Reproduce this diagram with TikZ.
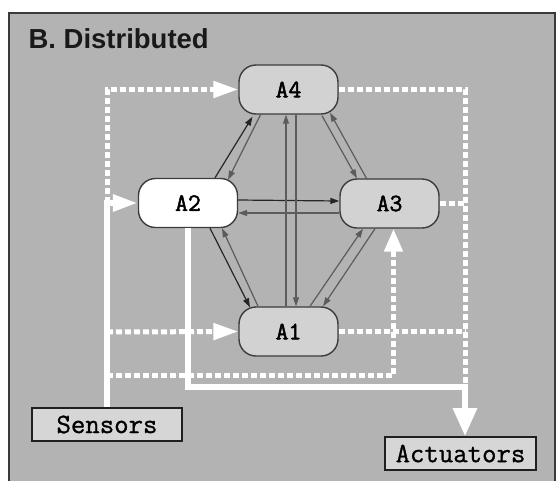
\documentclass[tikz,border=0pt]{standalone}
\usepackage{fontspec}
\setmainfont{Liberation Sans}
\newfontfamily\labelfont[FakeBold=2]{Latin Modern Mono}
\newfontfamily\iofont[FakeBold=1]{Latin Modern Mono}
\usetikzlibrary{arrows.meta}

\definecolor{bgfill}{HTML}{B3B3B3}
\definecolor{framecol}{HTML}{3A3A3A}
\definecolor{agentfill}{HTML}{D2D2D2}
\definecolor{agentline}{HTML}{3C3C3C}
\definecolor{iofill}{HTML}{D6D6D6}
\definecolor{msgdark}{HTML}{262626}
\definecolor{msggray}{HTML}{5C5C5C}

\tikzset{
  agent/.style={draw=agentline, line width=1.4pt, fill=agentfill, rounded corners=17pt,
    minimum width=99pt, minimum height=49pt, inner sep=0pt,
    font=\labelfont\fontsize{25}{25}\selectfont},
  iobox/.style={draw=black!88, line width=1.6pt, fill=iofill, inner sep=0pt,
    minimum height=33pt, font=\iofont\fontsize{28}{28}\selectfont},
  hardlink/.style={draw=white, line width=6pt},
  softlink/.style={draw=white, line width=5pt, dash pattern=on 6pt off 3pt},
  bighead/.style={-{Triangle[length=25pt,width=16pt]}},
  downhead/.style={-{Triangle[length=28pt,width=23pt]}},
  msgA/.style={draw=msgdark, line width=1.2pt, -{Triangle[length=9pt,width=6pt]}},
  msgB/.style={draw=msggray, line width=1.2pt, -{Triangle[length=9pt,width=6pt]}},
}

\begin{document}
\begin{tikzpicture}[x=1pt, y=-1pt]
  \useasboundingbox (0,0) rectangle (557,480);

  % panel background and frame
  \fill[bgfill] (9,13) rectangle (556,482);
  \draw[framecol, line width=2pt] (9,484) -- (9,13) -- (555,13) -- (555,484);

  \node[anchor=west, text=black!90, font=\bfseries\fontsize{27.5}{27.5}\selectfont]
    (title) at (25,39) {B. Distributed};

  % agents
  \node[agent] (A4) at (288.5,89.5) {A4};
  \node[agent, fill=white] (A2) at (188,203) {A2};
  \node[agent] (A3) at (389.5,203.5) {A3};
  \node[agent] (A1) at (288.5,331.5) {A1};

  % sensors and actuators
  \node[iobox, minimum width=150pt] (sen) at (107,424.5) {Sensors};
  \node[iobox, minimum width=151pt] (act) at (460.5,453.5) {Actuators};

  % junction points of the wiring
  \coordinate (trunk) at (107,203);
  \coordinate (tapA1) at (107,332);
  \coordinate (tapA3) at (107,375);
  \coordinate (outA3) at (465,203.5);
  \coordinate (outA1) at (465,331.5);
  \coordinate (outEnd) at (465,386);
  \coordinate (outBus) at (465,387);

  % dotted sensor taps to the other agents
  \draw[softlink, bighead] (trunk) |- (A4.west);
  \draw[softlink, bighead] (tapA1) -- (A1.west);
  \draw[softlink, -{Triangle[length=23pt,width=18pt]}] (tapA3) -| ([xshift=4pt]A3.south);

  % dotted agent outputs
  \draw[softlink] (A4.east) -| (outEnd);
  \draw[softlink] (A3.east) -- (outA3);
  \draw[softlink] (A1.east) -- (outA1);

  % solid sensor feed and actuator command
  \draw[hardlink, bighead] (sen.north) |- (A2.west);
  \draw[hardlink, downhead] (A2.south) |- (outBus) -- ([xshift=4.5pt]act.north);

  % messages between agents
  \draw[msgA] ([xshift=27pt]A2.north) -- ([xshift=-36pt,yshift=-2pt]A4.south);
  \draw[msgB] ([xshift=-28pt]A4.south) -- ([xshift=40pt,yshift=-2pt]A2.north);

  \draw[msgA] ([yshift=3pt]A2.east) -- ([yshift=2.5pt]A3.west);
  \draw[msgB] ([yshift=-9.5pt]A3.west) -- ([yshift=-10pt]A2.east);

  \draw[msgB] ([xshift=33.5pt,yshift=-1pt]A4.south) -- ([xshift=-32.5pt]A3.north);
  \draw[msgB] ([xshift=-22.5pt,yshift=-1pt]A3.north) -- ([xshift=41.5pt,yshift=2pt]A4.south);

  \draw[msgB] ([xshift=-2.5pt]A1.north) -- ([xshift=-2.5pt]A4.south);
  \draw[msgB] ([xshift=7.5pt]A4.south) -- ([xshift=7.5pt]A1.north);

  \draw[msgA] ([xshift=22pt]A2.south) -- ([xshift=-38.5pt,yshift=-1pt]A1.north);
  \draw[msgB] ([xshift=-30.5pt]A1.north) -- ([xshift=34pt]A2.south);

  \draw[msgB] ([xshift=21.5pt]A1.north) -- ([xshift=-26.5pt]A3.south);
  \draw[msgB] ([xshift=-14.5pt]A3.south) -- ([xshift=34.5pt]A1.north);
\end{tikzpicture}
\end{document}
